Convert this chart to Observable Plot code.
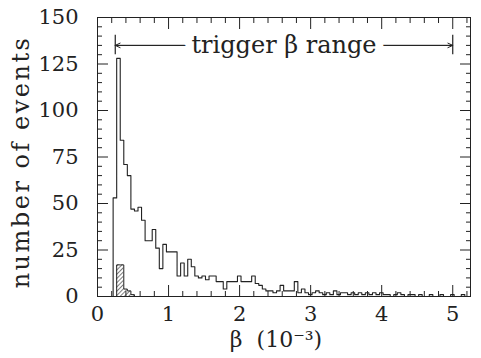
<!DOCTYPE html>
<html><head><meta charset="utf-8">
<script src="https://cdn.jsdelivr.net/npm/d3@7"></script>
<script src="https://cdn.jsdelivr.net/npm/@observablehq/plot@0.6"></script>
<style>body{margin:0;background:#fff} svg{display:block}</style>
</head><body><div id="chart"></div>
<script>
// ---- data ----
const binStart = 0.22;
const binWidth = 0.05;
const allCounts = [53,128,84,71,65,47,46,48,41,30,30,36,26,15,28,24,24,24,11,18,
  11,20,16,11,10,11,9,11,11,8,8,4,8,8,8,11,8,8,8,11,
  7,6,4,3,3,2,3,6,3,3,3,8,2,4,2,1,2,3,2,1,
  2,1,3,1,2,2,1,2,1,2,1,2,1,2,1,2,1,1,0,1,
  2,1,0,1,1,0,1,0,0,1,0,0,1,0,0,1,0,0,1,0];
const hatchedCounts = [0,17,17,4,3,1];
const xTicks = [0,1,2,3,4,5];
const xMinor = [0.2,0.4,0.6,0.8,1.2,1.4,1.6,1.8,2.2,2.4,2.6,2.8,3.2,3.4,3.6,3.8,4.2,4.4,4.6,4.8,5.2];
const yTicks = [0,25,50,75,100,125,150];
const yMinor = [5,10,15,20,30,35,40,45,55,60,65,70,80,85,90,95,105,110,115,120,130,135,140,145];
const triggerRange = [0.25, 5.0];
const triggerLevel = 135;
const triggerBar = [130, 140.5];
const triggerText = "trigger β range";
const xLabel = "β  (10⁻³)";
const yLabel = "number of events";

// ---- build tables ----
function stepPoints(counts) {
  const pts = [{x: binStart, y: 0}];
  counts.forEach((c, i) => pts.push({x: binStart + i * binWidth, y: c}));
  pts.push({x: binStart + counts.length * binWidth, y: 0});
  return pts;
}
const steps = stepPoints(allCounts);
const hatchSteps = stepPoints(hatchedCounts);
const hatched = hatchedCounts.map((c, i) => ({x1: binStart + i * binWidth, x2: binStart + (i + 1) * binWidth, y: c}));
const mid = (triggerRange[0] + triggerRange[1]) / 2;

const ink = "#222";
const font = "DejaVu Serif";

const chart = Plot.plot({
  width: 481, height: 358,
  marginLeft: 97, marginRight: 11, marginTop: 17, marginBottom: 62,
  x: {domain: [0, 5.25], label: null},
  y: {domain: [0, 150], label: null},
  style: {fontFamily: font, color: ink, background: "white"},
  marks: [
    Plot.frame({stroke: ink}),
    // labels
    Plot.axisX(xTicks, {anchor: "bottom", tickSize: 0, tickPadding: 10, fontSize: 21, label: null}),
    Plot.axisY(yTicks, {anchor: "left", tickSize: 0, tickPadding: 19, fontSize: 21, label: null}),
    // inward ticks
    Plot.axisX(xTicks, {anchor: "bottom", tickSize: -11, tickFormat: () => "", label: null}),
    Plot.axisX(xMinor, {anchor: "bottom", tickSize: -5, tickFormat: () => "", label: null}),
    Plot.axisX(xTicks, {anchor: "top", tickSize: -11, tickFormat: () => "", label: null}),
    Plot.axisX(xMinor, {anchor: "top", tickSize: -5, tickFormat: () => "", label: null}),
    Plot.axisY(yTicks, {anchor: "left", tickSize: -11, tickFormat: () => "", label: null}),
    Plot.axisY(yMinor, {anchor: "left", tickSize: -5, tickFormat: () => "", label: null}),
    Plot.axisY(yTicks, {anchor: "right", tickSize: -11, tickFormat: () => "", label: null}),
    Plot.axisY(yMinor, {anchor: "right", tickSize: -5, tickFormat: () => "", label: null}),
    // hatched histogram
    Plot.rectY(hatched, {x1: "x1", x2: "x2", y: "y", fill: "url(#hatch)"}),
    Plot.line(hatchSteps, {x: "x", y: "y", curve: "step-after", stroke: ink, strokeWidth: 1}),
    // main histogram outline
    Plot.line(steps, {x: "x", y: "y", curve: "step-after", stroke: ink, strokeWidth: 1.1}),
    // trigger range annotation
    Plot.ruleY([triggerLevel], {x1: triggerRange[0], x2: triggerRange[1], stroke: ink, strokeWidth: 1}),
    Plot.ruleX(triggerRange, {y1: triggerBar[0], y2: triggerBar[1], stroke: ink, strokeWidth: 1.2}),
    Plot.arrow(triggerRange, {x1: mid, x2: d => d, y1: triggerLevel, y2: triggerLevel, stroke: ink, headLength: 8, headAngle: 50, strokeWidth: 1}),
    Plot.text([triggerText], {x: mid, y: triggerLevel, fontSize: 24, fill: ink, stroke: "white", strokeWidth: 16, fontFamily: font}),
    // axis titles
    Plot.text([xLabel], {frameAnchor: "bottom", textAnchor: "middle", dx: -8, dy: 50, fontSize: 22, fill: ink, fontFamily: font}),
    Plot.text([yLabel], {frameAnchor: "left", textAnchor: "middle", rotate: -90, dx: -76, dy: 5, fontSize: 24, fill: ink, fontFamily: font})
  ]
});

const ns = "http://www.w3.org/2000/svg";
const defs = document.createElementNS(ns, "defs");
defs.innerHTML = '<pattern id="hatch" patternUnits="userSpaceOnUse" width="3" height="3" patternTransform="rotate(45)"><line x1="0" y1="0" x2="0" y2="3" stroke="#222" stroke-width="1.2"/></pattern>';
chart.prepend(defs);
chart.querySelectorAll("text").forEach(t => {
  if (t.textContent === yLabel) t.setAttribute("letter-spacing", "2.5");
  if (t.textContent === xLabel) { t.setAttribute("xml:space", "preserve"); t.style.whiteSpace = "pre"; }
});
document.getElementById("chart").appendChild(chart);
</script>
</body></html>
